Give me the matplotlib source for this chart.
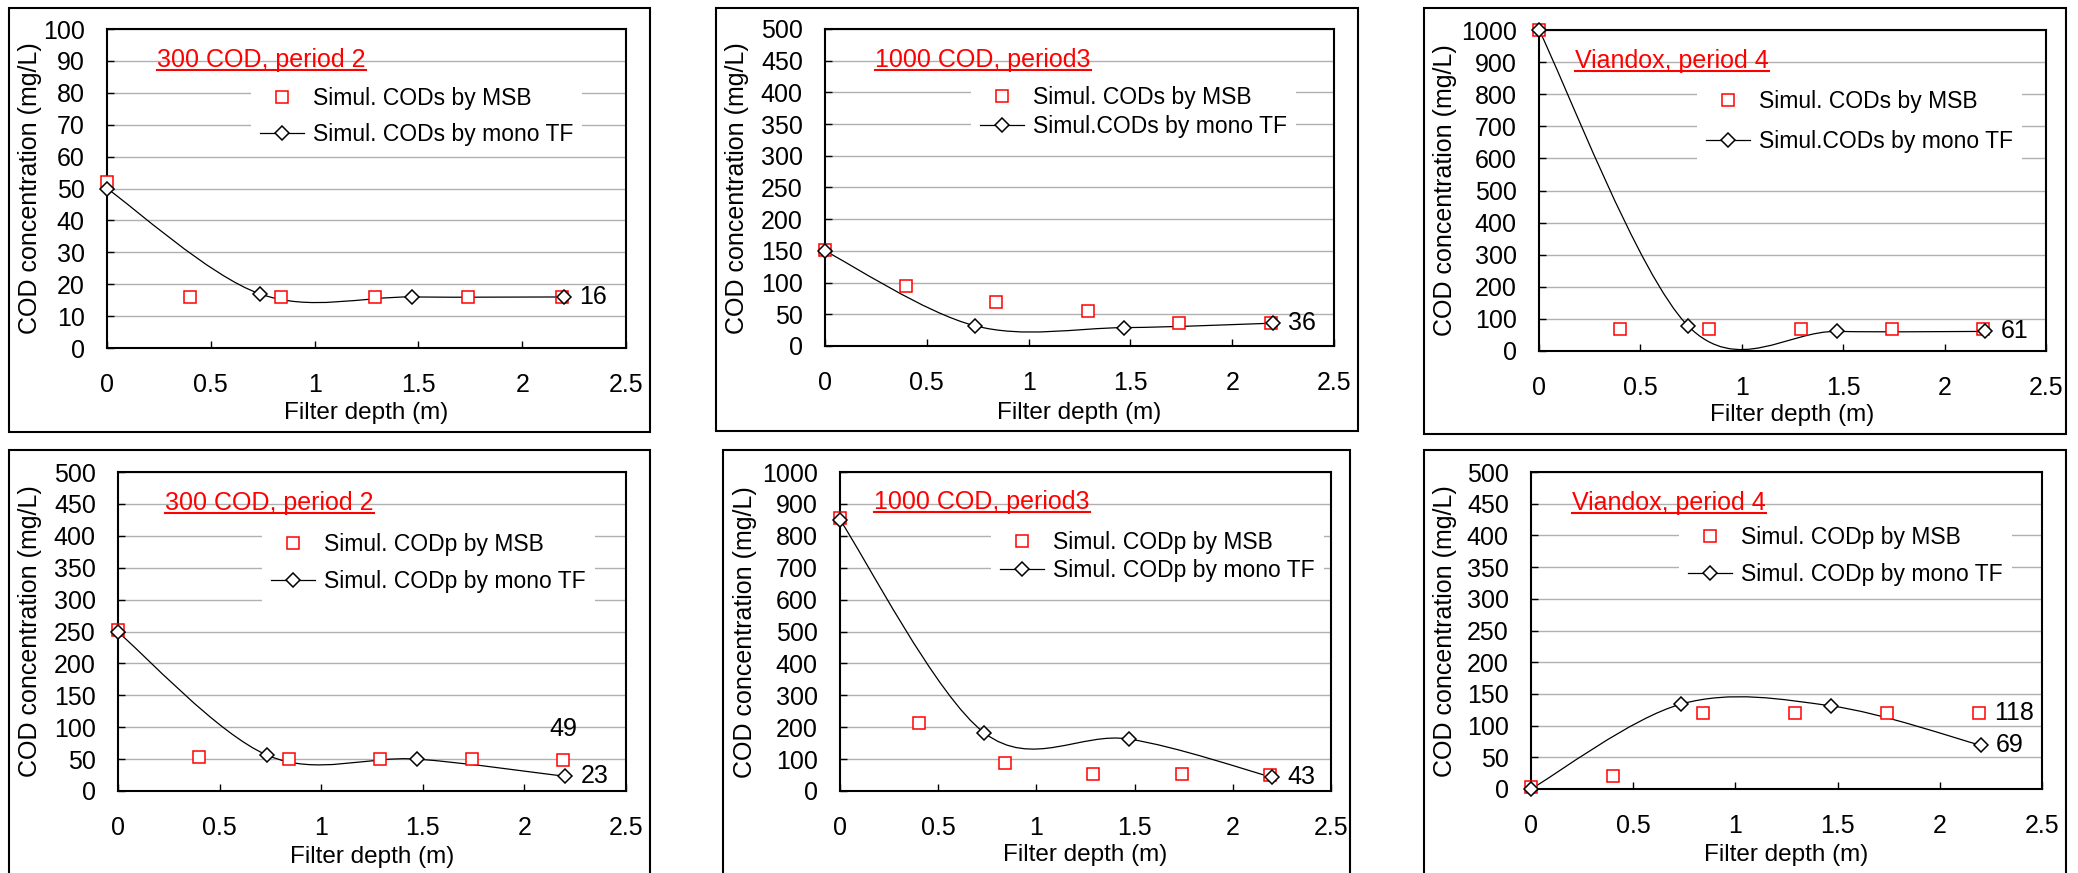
import matplotlib.pyplot as plt
from matplotlib.path import Path
from matplotlib.patches import PathPatch, Rectangle
from matplotlib.lines import Line2D

plt.rcParams['font.family'] = ['Liberation Sans', 'DejaVu Sans']

W, H = 2078, 873

# filter depths (m)
depth_msb = [0, 0.4, 0.84, 1.29, 1.74, 2.19]
depth_tf = [0, 0.735, 1.47, 2.2]

# soluble COD (CODs)
cods_300_msb = [52, 16, 16, 16, 16, 16]
cods_300_tf = [50, 17, 16, 16]
cods_1000_msb = [152, 94, 69, 55, 37, 37]
cods_1000_tf = [150, 32, 29, 36]
cods_viandox_msb = [1000, 68, 68, 68, 68, 68]
cods_viandox_tf = [1000, 78, 61, 61]

# particulate COD (CODp)
codp_300_msb = [252, 53, 50, 50, 50, 49]
codp_300_tf = [249, 56, 50, 23]
codp_1000_msb = [857, 213, 89, 54, 54, 49]
codp_1000_tf = [850, 182, 163, 43]
codp_viandox_msb = [3, 20, 120, 120, 120, 120]
codp_viandox_tf = [0, 134, 131, 69]

msb_series = [cods_300_msb, cods_1000_msb, cods_viandox_msb,
              codp_300_msb, codp_1000_msb, codp_viandox_msb]
tf_series = [cods_300_tf, cods_1000_tf, cods_viandox_tf,
             codp_300_tf, codp_1000_tf, codp_viandox_tf]

titles = ['300 COD, period 2', '1000 COD, period3', 'Viandox, period 4',
          '300 COD, period 2', '1000 COD, period3', 'Viandox, period 4']
msb_labels = ['Simul. CODs by MSB'] * 3 + ['Simul. CODp by MSB'] * 3
tf_labels = ['Simul. CODs by mono TF', 'Simul.CODs by mono TF', 'Simul.CODs by mono TF',
             'Simul. CODp by mono TF', 'Simul. CODp by mono TF', 'Simul. CODp by mono TF']
y_max = [100, 500, 1000, 500, 1000, 500]
y_step = [10, 50, 100, 50, 100, 50]
x_ticks = [0, 0.5, 1, 1.5, 2, 2.5]
x_ticklabels = ['0', '0.5', '1', '1.5', '2', '2.5']

# text written next to the last point: (series, text, where)
end_labels = [[('tf', '16', 'right')],
              [('tf', '36', 'right')],
              [('tf', '61', 'right')],
              [('msb', '49', 'above'), ('tf', '23', 'right')],
              [('tf', '43', 'right')],
              [('msb', '118', 'right'), ('tf', '69', 'right')]]

# layout in figure pixels (y measured from the top)
boxes = [(9, 8, 650, 432), (716, 8, 1358, 431), (1424, 8, 2066, 434),
         (9, 450, 650, 900), (723, 450, 1350, 900), (1424, 450, 2066, 900)]
axes_px = [(107, 29, 626, 348), (825, 29, 1334, 346), (1539, 30, 2046, 351),
           (118, 472, 626, 791), (840, 472, 1331, 791), (1531, 472, 2042, 789)]
ylabel_px = [(30, 188), (737, 188), (1445, 190), (30, 631), (745, 632), (1445, 631)]
xlabel_y = [413, 413, 415, 857, 855, 855]
title_px = [(157, 67), (875, 67), (1575, 68), (165, 510), (874, 509), (1572, 510)]
legend_px = [(260, 98, 35), (980, 97, 28), (1706, 101, 39),
             (271, 544, 36), (1000, 542, 27), (1688, 537, 36)]

LEG_FS = 16.5


def fx(x):
    return x / W


def fy(y):
    return 1 - y / H


def smooth_path(xs, ys):
    # Excel-style smoothed line (cubic Bezier through the points)
    pts = list(zip(xs, ys))
    n = len(pts)
    verts = [pts[0]]
    codes = [Path.MOVETO]
    for i in range(n - 1):
        p0 = pts[max(i - 1, 0)]
        p1 = pts[i]
        p2 = pts[i + 1]
        p3 = pts[min(i + 2, n - 1)]
        c1 = (p1[0] + (p2[0] - p0[0]) / 6, p1[1] + (p2[1] - p0[1]) / 6)
        c2 = (p2[0] - (p3[0] - p1[0]) / 6, p2[1] - (p3[1] - p1[1]) / 6)
        verts += [c1, c2, p2]
        codes += [Path.CURVE4] * 3
    return Path(verts, codes)


fig = plt.figure(figsize=(W / 100, H / 100), dpi=100)
renderer = fig.canvas.get_renderer()

for i in range(6):
    x0, y0, x1, y1 = boxes[i]
    fig.add_artist(Rectangle((fx(x0), fy(y1)), (x1 - x0) / W, (y1 - y0) / H,
                             transform=fig.transFigure, fill=False, lw=1.5, ec='black'))

    l, t, r, b = axes_px[i]
    ax = fig.add_axes([fx(l), fy(b), (r - l) / W, (b - t) / H])

    ax.add_patch(PathPatch(smooth_path(depth_tf, tf_series[i]), fc='none', ec='black',
                           lw=0.9, zorder=2))
    ax.plot(depth_msb, msb_series[i], linestyle='none', marker='s', ms=8.5, mfc='white',
            mec='red', mew=1.1, zorder=3, clip_on=False)
    ax.plot(depth_tf, tf_series[i], linestyle='none', marker='D', ms=7.3, mfc='white',
            mec='black', mew=1.1, zorder=4, clip_on=False)

    ax.set_xlim(0, 2.5)
    ax.set_ylim(0, y_max[i])
    ax.set_xticks(x_ticks)
    ax.set_xticklabels(x_ticklabels)
    ax.set_yticks(list(range(0, y_max[i] + 1, y_step[i])))
    ax.tick_params(direction='in', length=5, width=1, labelsize=18, colors='black')
    ax.tick_params(axis='x', pad=18)
    ax.tick_params(axis='y', pad=16)
    ax.yaxis.grid(True, color='#b0b0b0', lw=1.0)
    ax.set_axisbelow(True)
    for sp in ax.spines.values():
        sp.set_linewidth(1.5)
        sp.set_color('black')

    ax.set_ylabel('COD concentration (mg/L)', fontsize=18, va='center')
    ax.yaxis.set_label_coords(fx(ylabel_px[i][0]), fy(ylabel_px[i][1]), transform=fig.transFigure)
    ax.set_xlabel('Filter depth (m)', fontsize=17.5, va='center')
    ax.xaxis.set_label_coords(fx((l + r) / 2), fy(xlabel_y[i]), transform=fig.transFigure)

    # legend
    hx, hy, spacing = legend_px[i]
    pad = 0.4 * LEG_FS * 100 / 72
    handles = [Line2D([], [], linestyle='none', marker='s', ms=8.5, mfc='white', mec='red', mew=1.1),
               Line2D([], [], color='black', lw=0.9, marker='D', ms=7.3, mfc='white',
                      mec='black', mew=1.1)]
    ax.legend(handles, [msb_labels[i], tf_labels[i]], loc='upper left',
              bbox_to_anchor=(fx(hx - pad), fy(hy - 11 - pad)), bbox_transform=fig.transFigure,
              frameon=True, facecolor='white', edgecolor='none', framealpha=1, fancybox=False,
              borderpad=0.4, borderaxespad=0, handlelength=1.9, handletextpad=0.4,
              labelspacing=(spacing - 22) / (LEG_FS * 100 / 72), fontsize=LEG_FS)

    # red underlined title
    tx, ty = title_px[i]
    txt = fig.text(fx(tx), fy(ty), titles[i], color='red', fontsize=18, ha='left', va='baseline')
    bb = txt.get_window_extent(renderer)
    fig.add_artist(Line2D([bb.x0 / W, bb.x1 / W], [fy(ty + 3), fy(ty + 3)],
                          transform=fig.transFigure, color='red', lw=1.5))

    # end labels
    for series, text, where in end_labels[i]:
        if series == 'tf':
            px, py = depth_tf[-1], tf_series[i][-1]
        else:
            px, py = depth_msb[-1], msb_series[i][-1]
        if where == 'right':
            ax.annotate(text, (px, py), xytext=(11, 0), textcoords='offset points',
                        ha='left', va='center', fontsize=18, annotation_clip=False)
        else:
            ax.annotate(text, (px, py), xytext=(0, 22), textcoords='offset points',
                        ha='center', va='center', fontsize=18, annotation_clip=False)

fig.savefig('out.png', dpi=100, facecolor='white')
